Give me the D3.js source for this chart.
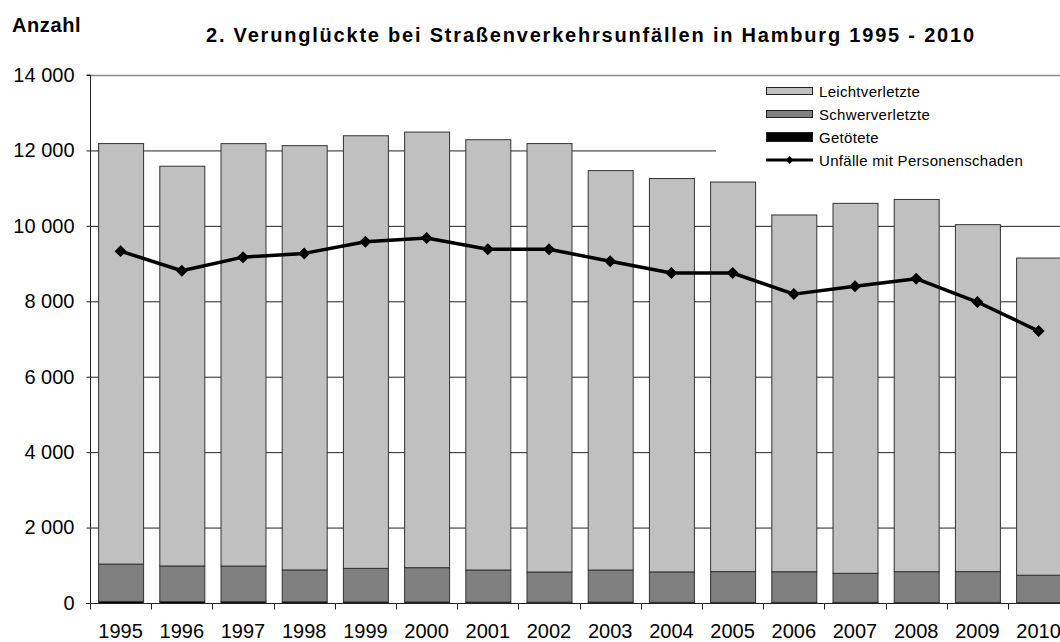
<!DOCTYPE html>
<html>
<head>
<meta charset="utf-8">
<script src="https://cdn.jsdelivr.net/npm/d3@7"></script>
<style>
  body { margin: 0; background: #fff; }
  text { font-family: "Liberation Sans", Arial, sans-serif; fill: #000; }
</style>
</head>
<body>
<div id="graph"></div>
<script>
// chart data
var years = ["1995", "1996", "1997", "1998", "1999", "2000", "2001", "2002",
             "2003", "2004", "2005", "2006", "2007", "2008", "2009", "2010"];
var leichtverletzte = [11150, 10600, 11200, 11250, 11470, 11550, 11410, 11360,
                       10590, 10430, 10330, 9460, 9810, 9870, 9200, 8410];
var schwerverletzte = [990, 945, 945, 845, 890, 910, 850, 800,
                       850, 805, 815, 810, 770, 815, 815, 725];
var getoetete = [55, 50, 48, 45, 42, 40, 38, 35,
                 38, 33, 30, 32, 30, 28, 30, 25];
var unfaelle = [9330, 8810, 9170, 9270, 9580, 9680, 9380, 9380,
                9060, 8750, 8750, 8190, 8400, 8600, 7980, 7210];
var yTicks = [0, 2000, 4000, 6000, 8000, 10000, 12000, 14000];

var svg = d3.select('#graph').append("svg")
  .attr('width', 1060)
  .attr('height', 642);

svg.append("rect").attr("width", 1060).attr("height", 642).attr("fill", "#fff");

// scales
var x = d3.scaleBand().domain(years).range([90, 1069.2])
  .paddingInner(0.265).paddingOuter(0.1325);
var y = d3.scaleLinear().domain([0, 14000]).range([603, 75]);

var fmt = function(d) { return d3.format(",")(d).replace(",", " "); };

// gridlines
svg.append("g").selectAll("line")
  .data(yTicks.filter(function(d) { return d > 0; }))
  .enter().append("line")
  .attr("x1", 90).attr("x2", 1060)
  .attr("y1", function(d) { return y(d) + 0.5; })
  .attr("y2", function(d) { return y(d) + 0.5; })
  .attr("stroke", function(d) { return d === 14000 ? "#888" : "#222"; })
  .attr("stroke-width", function(d) { return d === 14000 ? 1.5 : 1; });

// stacked bars
var rows = years.map(function(yr, i) {
  return { year: yr, g: getoetete[i], s: schwerverletzte[i], l: leichtverletzte[i] };
});
var keys = ["g", "s", "l"];
var fills = { g: "#000", s: "#808080", l: "#c0c0c0" };
var stack = d3.stack().keys(keys)(rows);

svg.append("g").selectAll("g")
  .data(stack)
  .enter().append("g")
  .attr("fill", function(d) { return fills[d.key]; })
  .selectAll("rect")
  .data(function(d) { return d; })
  .enter().append("rect")
  .attr("x", function(d) { return x(d.data.year) + 0.5; })
  .attr("y", function(d) { return y(d[1]) + 0.5; })
  .attr("width", x.bandwidth())
  .attr("height", function(d) { return y(d[0]) - y(d[1]); })
  .attr("stroke", "#333")
  .attr("stroke-width", 1);

// line
var line = d3.line()
  .x(function(d, i) { return x(years[i]) + x.bandwidth() / 2; })
  .y(function(d) { return y(d); });

svg.append("path")
  .datum(unfaelle)
  .attr("d", line)
  .attr("fill", "none")
  .attr("stroke", "#000")
  .attr("stroke-width", 3.5)
  .attr("stroke-linejoin", "round");

var diamond = d3.symbol().type(d3.symbolSquare).size(72);
svg.append("g").selectAll("path")
  .data(unfaelle)
  .enter().append("path")
  .attr("d", diamond)
  .attr("transform", function(d, i) {
    return "translate(" + (x(years[i]) + x.bandwidth() / 2) + "," + y(d) + ") rotate(45)";
  })
  .attr("fill", "#000");

// y axis
var yAxis = svg.append("g")
  .attr("transform", "translate(90.5,0)")
  .call(d3.axisLeft(y).tickValues(yTicks).tickSize(4).tickPadding(12).tickFormat(fmt));
yAxis.select(".domain").attr("stroke", "#222").attr("d", "M-4," + y(14000) + "H0V" + (y(0) + 0.5));
yAxis.selectAll(".tick line").attr("stroke", "#222");
yAxis.selectAll("text").style("font-size", "20px").attr("fill", "#000")
  .attr("font-family", null);

// x axis
var xg = svg.append("g").attr("transform", "translate(0," + (y(0) + 0.5) + ")");
xg.append("line").attr("x1", 86).attr("x2", 1060).attr("stroke", "#222");
xg.selectAll(".tk")
  .data(years)
  .enter().append("line")
  .attr("x1", function(d) { return Math.round(x(d) - x.step() * x.paddingOuter()) + 0.5; })
  .attr("x2", function(d) { return Math.round(x(d) - x.step() * x.paddingOuter()) + 0.5; })
  .attr("y1", 0).attr("y2", 6)
  .attr("stroke", "#222");
xg.selectAll("text")
  .data(years)
  .enter().append("text")
  .attr("x", function(d) { return x(d) + x.bandwidth() / 2; })
  .attr("y", 34)
  .attr("text-anchor", "middle")
  .style("font-size", "20px")
  .text(function(d) { return d; });

// legend box
var lg = svg.append("g");
lg.append("rect").attr("x", 716).attr("y", 78).attr("width", 344).attr("height", 94).attr("fill", "#fff");
var legendItems = [
  { name: "Leichtverletzte", fill: "#c0c0c0", y: 91, h: 7 },
  { name: "Schwerverletzte", fill: "#808080", y: 114, h: 7 },
  { name: "Getötete", fill: "#000", y: 137, h: 9 }
];
legendItems.forEach(function(it) {
  lg.append("rect")
    .attr("x", 766.5).attr("y", it.y - it.h / 2)
    .attr("width", 46).attr("height", it.h)
    .attr("fill", it.fill).attr("stroke", "#222");
  lg.append("text")
    .attr("x", 819).attr("y", it.y + 5.5)
    .style("font-size", "15px")
    .style("letter-spacing", "0.3px")
    .text(it.name);
});
lg.append("line").attr("x1", 766).attr("x2", 813).attr("y1", 160).attr("y2", 160)
  .attr("stroke", "#000").attr("stroke-width", 3);
lg.append("path").attr("d", d3.symbol().type(d3.symbolSquare).size(34))
  .attr("transform", "translate(789.5,160) rotate(45)").attr("fill", "#000");
lg.append("text")
  .attr("x", 819).attr("y", 165.5)
  .style("font-size", "15px")
  .style("letter-spacing", "0.3px")
  .text("Unfälle mit Personenschaden");

// titles
svg.append("text")
  .attr("x", 12).attr("y", 32)
  .style("font-size", "20px").style("font-weight", "bold")
  .style("letter-spacing", "0.6px")
  .text("Anzahl");
svg.append("text")
  .attr("x", 206).attr("y", 42)
  .attr("textLength", 768).attr("lengthAdjust", "spacing")
  .style("font-size", "20px").style("font-weight", "bold")
  .text("2. Verunglückte bei Straßenverkehrsunfällen in Hamburg 1995 - 2010");
</script>
</body>
</html>
